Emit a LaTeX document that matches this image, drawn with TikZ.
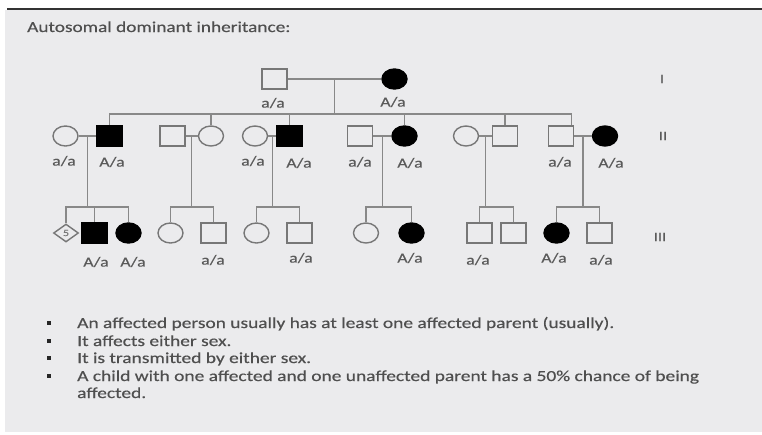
\documentclass[tikz,border=0pt]{standalone}
\usepackage{fontspec}
\setmainfont{Carlito}[FakeStretch=1.27,FakeBold=0.4]
\usetikzlibrary{shapes.geometric,calc}
\definecolor{panel}{HTML}{EBEBED}
\definecolor{txt}{HTML}{4F4F4F}
\definecolor{lbl}{HTML}{5A5A5A}
\definecolor{ln}{HTML}{888888}
\definecolor{ol}{HTML}{777777}
\tikzset{
  male/.style={draw=ol,line width=1.4pt,fill=panel,rectangle,minimum width=25pt,minimum height=20pt,inner sep=0pt},
  female/.style={draw=ol,line width=1.4pt,fill=panel,ellipse,minimum width=25pt,minimum height=20pt,inner sep=0pt},
  aff/.style={fill=black,draw=black},
  unk/.style={draw=ol,line width=1.4pt,fill=panel,diamond,minimum width=25pt,minimum height=18pt,inner sep=0pt,font=\fontsize{9.5}{9.5}\selectfont,text=ol},
  gt/.style={text=lbl,font=\fontsize{14}{16}\selectfont,inner sep=0pt},
  gen/.style={text=lbl,font=\fontsize{13}{15}\selectfont,inner sep=0pt},
  conn/.style={draw=ln,line width=1.3pt},
  btxt/.style={text=txt,font=\fontsize{15.3}{17}\selectfont,anchor=base west,inner sep=0pt},
  bul/.style={fill=black!85,inner sep=0pt,minimum size=4pt},
}
\begin{document}
\begin{tikzpicture}[x=1pt,y=-1pt]
\useasboundingbox (0,0) rectangle (762,434);
\fill[white] (0,0) rectangle (762,434);
\fill[panel] (5,10) rectangle (762,432);
\draw[black!80,line width=2pt] (7,9) -- (762,9);

\node[btxt,font=\fontsize{15.2}{18}\selectfont] (title) at (27,32) {Autosomal dominant inheritance:};

\coordinate (lvl2) at (0,114);
\coordinate (lvl3) at (0,207);

% Generation I
\node[male] (g1a) at (274.5,79) {};
\node[female,aff] (g1b) at (394.5,79) {};
\node[gt] (l1a) at (273,103) {a/a};
\node[gt] (l1b) at (393,102) {A/a};
\node[gen] (r1) at (662,79) {I};

% Generation II
\node[female] (g2a) at (65.5,136) {};
\node[male,aff] (g2b) at (109.5,136) {};
\node[male] (g2c) at (172.5,136) {};
\node[female] (g2d) at (211,136) {};
\node[female] (g2e) at (255,136) {};
\node[male,aff] (g2f) at (289.5,136) {};
\node[male] (g2g) at (360,136) {};
\node[female,aff] (g2h) at (404.5,136) {};
\node[female] (g2i) at (466,136) {};
\node[male] (g2j) at (505,136) {};
\node[male] (g2k) at (561,136) {};
\node[female,aff] (g2l) at (605,136) {};
\node[gt] (l2a) at (64,161) {a/a};
\node[gt] (l2b) at (112,162) {A/a};
\node[gt] (l2e) at (253,161) {a/a};
\node[gt] (l2f) at (299,163) {A/a};
\node[gt] (l2g) at (360,162) {a/a};
\node[gt] (l2h) at (410,163) {A/a};
\node[gt] (l2k) at (560,162) {a/a};
\node[gt] (l2l) at (611,163) {A/a};
\node[gen] (r2) at (663,136) {II};

% Generation III
\node[unk] (g3a) at (66,233) {5};
\node[male,aff] (g3b) at (94.5,233) {};
\node[female,aff] (g3c) at (128.5,233) {};
\node[female] (g3d) at (170.5,233) {};
\node[male] (g3e) at (213.5,233) {};
\node[female] (g3f) at (256.5,233) {};
\node[male] (g3g) at (299.5,233) {};
\node[female] (g3h) at (366,233) {};
\node[female,aff] (g3i) at (411.5,233) {};
\node[male] (g3j) at (479.5,233) {};
\node[male] (g3k) at (513.5,233) {};
\node[female,aff] (g3l) at (556.5,233) {};
\node[male] (g3m) at (599.5,233) {};
\node[gt] (l3b) at (96,262) {A/a};
\node[gt] (l3c) at (133,262) {A/a};
\node[gt] (l3e) at (213,260) {a/a};
\node[gt] (l3g) at (301,258) {a/a};
\node[gt] (l3i) at (410,258) {A/a};
\node[gt] (l3j) at (478,260) {a/a};
\node[gt] (l3l) at (554,258) {A/a};
\node[gt] (l3m) at (601,260) {a/a};
\node[gen] (r3) at (660,237) {III};

% Connectors generation I
\draw[conn] (g1a.east) -- (g1b.west);
\coordinate (m1) at ($(g1a.east)!0.5!(g1b.west)$);
\coordinate (s1) at (m1 |- lvl2);
\draw[conn] (m1) -- (s1);
\foreach \c in {g2b,g2d,g2f,g2h,g2j} \draw[conn] (s1) -| (\c.north);
\draw[conn] (s1) -| ([xshift=-3pt]g2k.north east);

% Couples generation II and their children
\newcommand{\couple}[3]{%
  \draw[conn] (#1.east) -- (#2.west);
  \coordinate (m#3) at ($(#1.east)!0.5!(#2.west)$);
  \coordinate (f#3) at (m#3 |- lvl3);
  \draw[conn] (m#3) -- (f#3);
}
\couple{g2a}{g2b}{a}
\couple{g2c}{g2d}{b}
\couple{g2e}{g2f}{c}
\couple{g2g}{g2h}{d}
\couple{g2i}{g2j}{e}
\couple{g2k}{g2l}{f}
\foreach \c in {g3a,g3b,g3c} \draw[conn] (fa) -| (\c.north);
\foreach \c in {g3d,g3e} \draw[conn] (fb) -| (\c.north);
\foreach \c in {g3f,g3g} \draw[conn] (fc) -| (\c.north);
\foreach \c in {g3h,g3i} \draw[conn] (fd) -| (\c.north);
\foreach \c in {g3j,g3k} \draw[conn] (fe) -| (\c.north);
\foreach \c in {g3l,g3m} \draw[conn] (ff) -| (\c.north);

% Bullets
\node[bul] (b1) at (49,323) {};
\node[bul] (b2) at (49,341) {};
\node[bul] (b3) at (49,358) {};
\node[bul] (b4) at (49,376) {};
\node[btxt] (t1) at (77,328) {An affected person usually has at least one affected parent (usually).};
\node[btxt] (t2) at (77,346) {It affects either sex.};
\node[btxt] (t3) at (77,363) {It is transmitted by either sex.};
\node[btxt] (t4) at (77,381) {A child with one affected and one unaffected parent has a 50\% chance of being};
\node[btxt] (t5) at (77,398) {affected.};
\end{tikzpicture}
\end{document}
